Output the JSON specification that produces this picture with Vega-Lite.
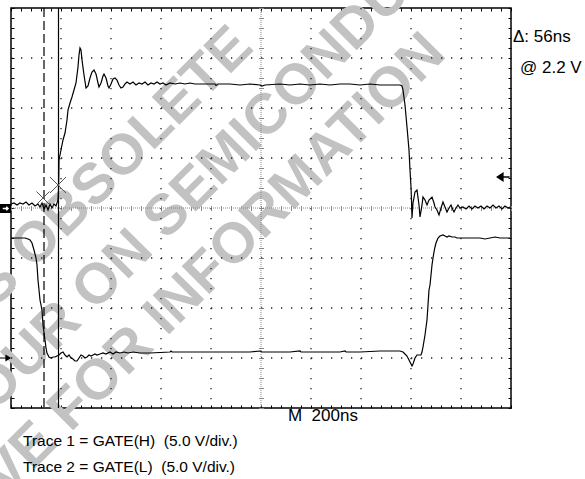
{
  "$schema": "https://vega.github.io/schema/vega-lite/v6.json",
  "width": 500,
  "height": 400,
  "autosize": {"type": "none"},
  "padding": {"left": 11, "top": 8, "right": 74, "bottom": 71},
  "background": "white",
  "config": {
    "view": {"stroke": "black", "strokeWidth": 1.5},
    "axis": {"labels": false, "title": null, "domain": false, "grid": false, "tickColor": "black", "tickWidth": 1}
  },
  "datasets": {
    "wmRight": [
      {"t": 928, "v": 3.42, "label": "THIS PRODUCT IS OBSOLETE"},
      {"t": 528, "v": -0.64, "label": "CONTACT YOUR ON"},
      {"t": 530, "v": -2.56, "label": "REPRESENTATIVE FOR"}
    ],
    "wmLeft": [
      {"t": 572, "v": -0.42, "label": "SEMICONDUCTOR"},
      {"t": 574, "v": -2.34, "label": "INFORMATION"}
    ],
    "gridV": [{"t": 200}, {"t": 400}, {"t": 600}, {"t": 800}, {"t": 1200}, {"t": 1400}, {"t": 1600}, {"t": 1800}],
    "gridH": [{"v": 3}, {"v": 2}, {"v": 1}, {"v": -1}, {"v": -2}, {"v": -3}],
    "trace1": [
      {"t": 0, "v": 0.08}, {"t": 12, "v": 0.10}, {"t": 24, "v": 0.06}, {"t": 36, "v": 0.10}, {"t": 48, "v": 0.08},
      {"t": 60, "v": 0.12}, {"t": 72, "v": 0.06}, {"t": 84, "v": 0.10}, {"t": 96, "v": 0.04}, {"t": 108, "v": 0.08},
      {"t": 116, "v": 0.02}, {"t": 124, "v": 0.10}, {"t": 132, "v": -0.02}, {"t": 140, "v": 0.06}, {"t": 148, "v": -0.04},
      {"t": 156, "v": 0.08}, {"t": 164, "v": 0.0}, {"t": 172, "v": 0.08}, {"t": 180, "v": 0.04}, {"t": 188, "v": 0.16},
      {"t": 190, "v": 0.36}, {"t": 192, "v": 0.96}, {"t": 200, "v": 1.16}, {"t": 208, "v": 1.36}, {"t": 216, "v": 1.5},
      {"t": 224, "v": 1.76}, {"t": 228, "v": 1.96}, {"t": 236, "v": 2.1}, {"t": 244, "v": 2.22}, {"t": 252, "v": 2.36},
      {"t": 260, "v": 2.5}, {"t": 264, "v": 2.66}, {"t": 268, "v": 2.82}, {"t": 272, "v": 3.06}, {"t": 276, "v": 3.2},
      {"t": 280, "v": 3.16}, {"t": 284, "v": 2.96}, {"t": 292, "v": 2.66}, {"t": 300, "v": 2.4}, {"t": 308, "v": 2.44},
      {"t": 316, "v": 2.6}, {"t": 324, "v": 2.72}, {"t": 332, "v": 2.76}, {"t": 340, "v": 2.68}, {"t": 348, "v": 2.5},
      {"t": 352, "v": 2.42}, {"t": 360, "v": 2.5}, {"t": 368, "v": 2.64}, {"t": 372, "v": 2.68}, {"t": 380, "v": 2.6},
      {"t": 388, "v": 2.44}, {"t": 392, "v": 2.4}, {"t": 400, "v": 2.48}, {"t": 408, "v": 2.58}, {"t": 416, "v": 2.6},
      {"t": 424, "v": 2.56}, {"t": 432, "v": 2.46}, {"t": 440, "v": 2.4}, {"t": 448, "v": 2.42}, {"t": 456, "v": 2.48},
      {"t": 464, "v": 2.52}, {"t": 476, "v": 2.48}, {"t": 488, "v": 2.52}, {"t": 500, "v": 2.46}, {"t": 512, "v": 2.5},
      {"t": 524, "v": 2.48}, {"t": 536, "v": 2.52}, {"t": 548, "v": 2.46}, {"t": 560, "v": 2.5}, {"t": 572, "v": 2.48},
      {"t": 584, "v": 2.52}, {"t": 596, "v": 2.48}, {"t": 608, "v": 2.5}, {"t": 620, "v": 2.46}, {"t": 636, "v": 2.5},
      {"t": 656, "v": 2.48}, {"t": 676, "v": 2.5}, {"t": 696, "v": 2.48}, {"t": 716, "v": 2.5}, {"t": 736, "v": 2.48},
      {"t": 756, "v": 2.48}, {"t": 816, "v": 2.48}, {"t": 820, "v": 2.45}, {"t": 828, "v": 2.48}, {"t": 876, "v": 2.48},
      {"t": 916, "v": 2.46}, {"t": 956, "v": 2.48}, {"t": 996, "v": 2.46}, {"t": 1004, "v": 2.44}, {"t": 1016, "v": 2.46},
      {"t": 1076, "v": 2.48}, {"t": 1116, "v": 2.46}, {"t": 1156, "v": 2.48}, {"t": 1196, "v": 2.46}, {"t": 1236, "v": 2.48},
      {"t": 1276, "v": 2.46}, {"t": 1316, "v": 2.48}, {"t": 1356, "v": 2.48}, {"t": 1396, "v": 2.46}, {"t": 1436, "v": 2.48},
      {"t": 1476, "v": 2.46}, {"t": 1516, "v": 2.46}, {"t": 1556, "v": 2.46}, {"t": 1564, "v": 2.44}, {"t": 1568, "v": 2.36},
      {"t": 1576, "v": 2.06}, {"t": 1584, "v": 1.62}, {"t": 1592, "v": 1.16}, {"t": 1596, "v": 0.76}, {"t": 1600, "v": 0.42},
      {"t": 1602, "v": 0.16}, {"t": 1604, "v": -0.2}, {"t": 1608, "v": 0.1}, {"t": 1616, "v": 0.32}, {"t": 1624, "v": 0.36},
      {"t": 1632, "v": 0.06}, {"t": 1636, "v": -0.18}, {"t": 1644, "v": 0.06}, {"t": 1648, "v": 0.22}, {"t": 1656, "v": 0.16},
      {"t": 1664, "v": 0.06}, {"t": 1672, "v": 0.16}, {"t": 1684, "v": 0.22}, {"t": 1692, "v": 0.1}, {"t": 1696, "v": 0.02},
      {"t": 1704, "v": -0.04}, {"t": 1712, "v": -0.14}, {"t": 1720, "v": 0.0}, {"t": 1728, "v": 0.12}, {"t": 1736, "v": 0.02},
      {"t": 1744, "v": -0.08}, {"t": 1752, "v": 0.0}, {"t": 1760, "v": 0.06}, {"t": 1768, "v": -0.04}, {"t": 1772, "v": -0.08},
      {"t": 1780, "v": 0.0}, {"t": 1788, "v": 0.06}, {"t": 1796, "v": 0.0}, {"t": 1808, "v": 0.02}, {"t": 1820, "v": -0.02},
      {"t": 1832, "v": 0.04}, {"t": 1844, "v": -0.02}, {"t": 1856, "v": 0.04}, {"t": 1868, "v": 0.0}, {"t": 1880, "v": 0.04},
      {"t": 1892, "v": -0.02}, {"t": 1904, "v": 0.04}, {"t": 1916, "v": 0.0}, {"t": 1928, "v": 0.06}, {"t": 1940, "v": 0.0},
      {"t": 1952, "v": 0.04}, {"t": 1964, "v": -0.02}, {"t": 1976, "v": 0.04}, {"t": 1988, "v": 0.0}, {"t": 1996, "v": 0.02}
    ],
    "trace2": [
      {"t": 0, "v": -0.6}, {"t": 36, "v": -0.6}, {"t": 56, "v": -0.6}, {"t": 68, "v": -0.62}, {"t": 76, "v": -0.64},
      {"t": 84, "v": -0.7}, {"t": 92, "v": -0.84}, {"t": 100, "v": -1.0}, {"t": 104, "v": -1.14}, {"t": 108, "v": -1.44},
      {"t": 112, "v": -1.64}, {"t": 116, "v": -1.84}, {"t": 124, "v": -2.04}, {"t": 128, "v": -2.34}, {"t": 136, "v": -2.64},
      {"t": 140, "v": -2.8}, {"t": 144, "v": -2.9}, {"t": 152, "v": -2.98}, {"t": 160, "v": -3.0}, {"t": 168, "v": -2.98},
      {"t": 176, "v": -2.98}, {"t": 184, "v": -2.96}, {"t": 192, "v": -2.94}, {"t": 200, "v": -2.9}, {"t": 208, "v": -2.88},
      {"t": 216, "v": -2.94}, {"t": 224, "v": -2.98}, {"t": 232, "v": -2.94}, {"t": 240, "v": -3.0}, {"t": 248, "v": -3.02},
      {"t": 256, "v": -3.06}, {"t": 264, "v": -3.06}, {"t": 272, "v": -3.0}, {"t": 280, "v": -2.94}, {"t": 288, "v": -2.96},
      {"t": 296, "v": -3.0}, {"t": 304, "v": -2.98}, {"t": 312, "v": -2.94}, {"t": 320, "v": -2.96}, {"t": 328, "v": -2.94},
      {"t": 336, "v": -2.92}, {"t": 344, "v": -2.94}, {"t": 356, "v": -2.92}, {"t": 368, "v": -2.9}, {"t": 380, "v": -2.92},
      {"t": 396, "v": -2.88}, {"t": 408, "v": -2.92}, {"t": 420, "v": -2.88}, {"t": 436, "v": -2.9}, {"t": 452, "v": -2.88},
      {"t": 468, "v": -2.9}, {"t": 488, "v": -2.88}, {"t": 516, "v": -2.9}, {"t": 556, "v": -2.9}, {"t": 636, "v": -2.88},
      {"t": 640, "v": -2.86}, {"t": 644, "v": -2.88}, {"t": 756, "v": -2.88}, {"t": 836, "v": -2.88}, {"t": 956, "v": -2.88},
      {"t": 996, "v": -2.86}, {"t": 1004, "v": -2.88}, {"t": 1116, "v": -2.88}, {"t": 1156, "v": -2.86}, {"t": 1160, "v": -2.88},
      {"t": 1236, "v": -2.88}, {"t": 1316, "v": -2.88}, {"t": 1336, "v": -2.86}, {"t": 1340, "v": -2.88}, {"t": 1396, "v": -2.88},
      {"t": 1476, "v": -2.86}, {"t": 1516, "v": -2.86}, {"t": 1556, "v": -2.86}, {"t": 1568, "v": -2.88}, {"t": 1576, "v": -2.92},
      {"t": 1584, "v": -2.96}, {"t": 1592, "v": -3.04}, {"t": 1600, "v": -3.12}, {"t": 1604, "v": -3.16}, {"t": 1608, "v": -3.12},
      {"t": 1616, "v": -3.0}, {"t": 1624, "v": -2.94}, {"t": 1632, "v": -2.94}, {"t": 1640, "v": -2.94}, {"t": 1644, "v": -2.88},
      {"t": 1648, "v": -2.78}, {"t": 1656, "v": -2.54}, {"t": 1664, "v": -2.24}, {"t": 1668, "v": -1.94}, {"t": 1672, "v": -1.64},
      {"t": 1676, "v": -1.54}, {"t": 1680, "v": -1.34}, {"t": 1684, "v": -1.14}, {"t": 1688, "v": -1.0}, {"t": 1692, "v": -0.88},
      {"t": 1696, "v": -0.78}, {"t": 1700, "v": -0.7}, {"t": 1708, "v": -0.6}, {"t": 1716, "v": -0.56}, {"t": 1728, "v": -0.54},
      {"t": 1736, "v": -0.56}, {"t": 1744, "v": -0.58}, {"t": 1752, "v": -0.56}, {"t": 1764, "v": -0.58}, {"t": 1776, "v": -0.58},
      {"t": 1784, "v": -0.6}, {"t": 1796, "v": -0.6}, {"t": 1836, "v": -0.6}, {"t": 1876, "v": -0.6}, {"t": 1896, "v": -0.62},
      {"t": 1916, "v": -0.6}, {"t": 1936, "v": -0.58}, {"t": 1956, "v": -0.6}, {"t": 1996, "v": -0.6}
    ],
    "crosses": [{"t": 128, "v": 0.2, "s": 170}, {"t": 188, "v": 0.46, "s": 260}],
    "boxMarker": [{"t": -22, "v": -0.01}],
    "arrowRight": [{"t": -24, "v": -3}],
    "arrowLeft": [{"t": 1970, "v": 0.62}],
    "labels": [
      {"t": 2008, "v": 3.43, "label": "Δ: 56ns"},
      {"t": 2036, "v": 2.8, "label": "@ 2.2 V"}
    ],
    "mlabel": [{"t": 1108, "v": -4.15, "label": "M\u00a0\u00a0200ns"}],
    "traceLabels": [
      {"t": 48, "v": -4.65, "label": "Trace 1 = GATE(H)\u00a0 (5.0 V/div.)"},
      {"t": 48, "v": -5.18, "label": "Trace 2 = GATE(L)\u00a0 (5.0 V/div.)"}
    ]
  },
  "layer": [
    {
      "data": {"name": "wmRight"},
      "mark": {"type": "text", "align": "right", "baseline": "middle", "angle": -45, "font": "Liberation Sans", "fontWeight": "bold", "fontSize": 57, "color": "#c2c2c2"},
      "encoding": {
        "x": {"field": "t", "type": "quantitative", "scale": {"domain": [0, 2000], "nice": false, "zero": false}, "axis": null},
        "y": {"field": "v", "type": "quantitative", "scale": {"domain": [-4, 4], "nice": false, "zero": false}, "axis": null},
        "text": {"field": "label"}
      }
    },
    {
      "data": {"name": "wmLeft"},
      "mark": {"type": "text", "align": "left", "baseline": "middle", "angle": -45, "font": "Liberation Sans", "fontWeight": "bold", "fontSize": 57, "color": "#c2c2c2"},
      "encoding": {
        "x": {"field": "t", "type": "quantitative", "scale": {"domain": [0, 2000], "nice": false, "zero": false}, "axis": null},
        "y": {"field": "v", "type": "quantitative", "scale": {"domain": [-4, 4], "nice": false, "zero": false}, "axis": null},
        "text": {"field": "label"}
      }
    },
    {
      "data": {"name": "gridV"},
      "mark": {"type": "rule", "color": "#222", "strokeWidth": 1.3, "strokeDash": [1.3, 8.7]},
      "encoding": {
        "x": {"field": "t", "type": "quantitative", "scale": {"domain": [0, 2000], "nice": false, "zero": false}, "axis": null},
        "y": {"datum": 4, "type": "quantitative", "scale": {"domain": [-4, 4], "nice": false, "zero": false}, "axis": null},
        "y2": {"datum": -4}
      }
    },
    {
      "data": {"name": "gridH"},
      "mark": {"type": "rule", "color": "#222", "strokeWidth": 1.3, "strokeDash": [1.3, 8.7]},
      "encoding": {
        "x": {"datum": 0, "type": "quantitative", "scale": {"domain": [0, 2000], "nice": false, "zero": false}, "axis": null},
        "x2": {"datum": 2000},
        "y": {"field": "v", "type": "quantitative", "scale": {"domain": [-4, 4], "nice": false, "zero": false}, "axis": null}
      }
    },
    {
      "data": {"values": [{"t": 1000}]},
      "mark": {"type": "rule", "color": "#888", "strokeWidth": 1, "strokeDash": [1, 1]},
      "encoding": {
        "x": {"field": "t", "type": "quantitative", "scale": {"domain": [0, 2000], "nice": false, "zero": false},
          "axis": {"orient": "bottom", "offset": -202.5, "tickSize": 5, "tickColor": "#888",
            "values": [0,40,80,120,160,200,240,280,320,360,400,440,480,520,560,600,640,680,720,760,800,840,880,920,960,1000,1040,1080,1120,1160,1200,1240,1280,1320,1360,1400,1440,1480,1520,1560,1600,1640,1680,1720,1760,1800,1840,1880,1920,1960,2000]}},
        "y": {"datum": 4, "type": "quantitative", "scale": {"domain": [-4, 4], "nice": false, "zero": false}, "axis": null},
        "y2": {"datum": -4}
      }
    },
    {
      "data": {"values": [{"v": 0}]},
      "mark": {"type": "rule", "color": "#888", "strokeWidth": 1, "strokeDash": [1, 1]},
      "encoding": {
        "x": {"datum": 0, "type": "quantitative", "scale": {"domain": [0, 2000], "nice": false, "zero": false}, "axis": null},
        "x2": {"datum": 2000},
        "y": {"field": "v", "type": "quantitative", "scale": {"domain": [-4, 4], "nice": false, "zero": false},
          "axis": {"orient": "left", "offset": -252.5, "tickSize": 5, "tickColor": "#888",
            "values": [-4,-3.8,-3.6,-3.4,-3.2,-3,-2.8,-2.6,-2.4,-2.2,-2,-1.8,-1.6,-1.4,-1.2,-1,-0.8,-0.6,-0.4,-0.2,0,0.2,0.4,0.6,0.8,1,1.2,1.4,1.6,1.8,2,2.2,2.4,2.6,2.8,3,3.2,3.4,3.6,3.8,4]}}
      }
    },
    {
      "data": {"values": [{"t": 132}]},
      "mark": {"type": "rule", "color": "black", "strokeWidth": 1.2, "strokeDash": [9, 4]},
      "encoding": {
        "x": {"field": "t", "type": "quantitative", "scale": {"domain": [0, 2000], "nice": false, "zero": false}, "axis": null},
        "y": {"datum": 4, "type": "quantitative", "scale": {"domain": [-4, 4], "nice": false, "zero": false}, "axis": null},
        "y2": {"datum": -4}
      }
    },
    {
      "data": {"values": [{"t": 190}]},
      "mark": {"type": "rule", "color": "black", "strokeWidth": 1.2},
      "encoding": {
        "x": {"field": "t", "type": "quantitative", "scale": {"domain": [0, 2000], "nice": false, "zero": false}, "axis": null},
        "y": {"datum": 4, "type": "quantitative", "scale": {"domain": [-4, 4], "nice": false, "zero": false}, "axis": null},
        "y2": {"datum": -4}
      }
    },
    {
      "data": {"name": "trace1"},
      "mark": {"type": "line", "color": "black", "strokeWidth": 1.2},
      "encoding": {
        "x": {"field": "t", "type": "quantitative", "scale": {"domain": [0, 2000], "nice": false, "zero": false},
          "axis": {"orient": "bottom", "tickSize": -3,
            "values": [0,40,80,120,160,200,240,280,320,360,400,440,480,520,560,600,640,680,720,760,800,840,880,920,960,1000,1040,1080,1120,1160,1200,1240,1280,1320,1360,1400,1440,1480,1520,1560,1600,1640,1680,1720,1760,1800,1840,1880,1920,1960,2000]}},
        "y": {"field": "v", "type": "quantitative", "scale": {"domain": [-4, 4], "nice": false, "zero": false},
          "axis": {"orient": "left", "tickSize": -3,
            "values": [-4,-3.8,-3.6,-3.4,-3.2,-3,-2.8,-2.6,-2.4,-2.2,-2,-1.8,-1.6,-1.4,-1.2,-1,-0.8,-0.6,-0.4,-0.2,0,0.2,0.4,0.6,0.8,1,1.2,1.4,1.6,1.8,2,2.2,2.4,2.6,2.8,3,3.2,3.4,3.6,3.8,4]}}
      }
    },
    {
      "data": {"name": "trace2"},
      "mark": {"type": "line", "color": "black", "strokeWidth": 1.2},
      "encoding": {
        "x": {"field": "t", "type": "quantitative", "scale": {"domain": [0, 2000], "nice": false, "zero": false},
          "axis": {"orient": "top", "tickSize": -3,
            "values": [0,40,80,120,160,200,240,280,320,360,400,440,480,520,560,600,640,680,720,760,800,840,880,920,960,1000,1040,1080,1120,1160,1200,1240,1280,1320,1360,1400,1440,1480,1520,1560,1600,1640,1680,1720,1760,1800,1840,1880,1920,1960,2000]}},
        "y": {"field": "v", "type": "quantitative", "scale": {"domain": [-4, 4], "nice": false, "zero": false},
          "axis": {"orient": "right", "tickSize": -3,
            "values": [-4,-3.8,-3.6,-3.4,-3.2,-3,-2.8,-2.6,-2.4,-2.2,-2,-1.8,-1.6,-1.4,-1.2,-1,-0.8,-0.6,-0.4,-0.2,0,0.2,0.4,0.6,0.8,1,1.2,1.4,1.6,1.8,2,2.2,2.4,2.6,2.8,3,3.2,3.4,3.6,3.8,4]}}
      }
    },
    {
      "data": {"name": "crosses"},
      "mark": {"type": "point", "shape": "M-1,-1L1,1M-1,1L1,-1", "filled": false, "color": "#555", "strokeWidth": 1, "opacity": 1},
      "encoding": {
        "x": {"field": "t", "type": "quantitative", "scale": {"domain": [0, 2000], "nice": false, "zero": false}, "axis": null},
        "y": {"field": "v", "type": "quantitative", "scale": {"domain": [-4, 4], "nice": false, "zero": false}, "axis": null},
        "size": {"field": "s", "type": "quantitative", "scale": null}
      }
    },
    {
      "data": {"name": "boxMarker"},
      "mark": {"type": "point", "shape": "M-1.1,-0.9L1.1,-0.9L1.1,0.9L-1.1,0.9Z", "filled": true, "color": "black", "size": 100, "opacity": 1},
      "encoding": {
        "x": {"field": "t", "type": "quantitative", "scale": {"domain": [0, 2000], "nice": false, "zero": false}, "axis": null},
        "y": {"field": "v", "type": "quantitative", "scale": {"domain": [-4, 4], "nice": false, "zero": false}, "axis": null}
      }
    },
    {
      "data": {"name": "boxMarker"},
      "mark": {"type": "point", "shape": "M-0.8,0L0.7,0M0.2,-0.5L0.7,0L0.2,0.5", "filled": false, "color": "white", "strokeWidth": 1.6, "size": 49, "opacity": 1},
      "encoding": {
        "x": {"field": "t", "type": "quantitative", "scale": {"domain": [0, 2000], "nice": false, "zero": false}, "axis": null},
        "y": {"field": "v", "type": "quantitative", "scale": {"domain": [-4, 4], "nice": false, "zero": false}, "axis": null}
      }
    },
    {
      "data": {"name": "arrowRight"},
      "mark": {"type": "point", "shape": "M-1,0L0.2,0M0.2,-0.5L1,0L0.2,0.5Z", "filled": true, "color": "black", "stroke": "black", "strokeWidth": 1.2, "size": 100, "opacity": 1},
      "encoding": {
        "x": {"field": "t", "type": "quantitative", "scale": {"domain": [0, 2000], "nice": false, "zero": false}, "axis": null},
        "y": {"field": "v", "type": "quantitative", "scale": {"domain": [-4, 4], "nice": false, "zero": false}, "axis": null}
      }
    },
    {
      "data": {"name": "arrowLeft"},
      "mark": {"type": "point", "shape": "M1,0L-0.1,0M-0.1,-0.6L-1,0L-0.1,0.6Z", "filled": true, "color": "black", "stroke": "black", "strokeWidth": 1.5, "size": 150, "opacity": 1},
      "encoding": {
        "x": {"field": "t", "type": "quantitative", "scale": {"domain": [0, 2000], "nice": false, "zero": false}, "axis": null},
        "y": {"field": "v", "type": "quantitative", "scale": {"domain": [-4, 4], "nice": false, "zero": false}, "axis": null}
      }
    },
    {
      "data": {"name": "labels"},
      "mark": {"type": "text", "align": "left", "baseline": "middle", "font": "Liberation Sans", "fontSize": 17, "color": "black"},
      "encoding": {
        "x": {"field": "t", "type": "quantitative", "scale": {"domain": [0, 2000], "nice": false, "zero": false}, "axis": null},
        "y": {"field": "v", "type": "quantitative", "scale": {"domain": [-4, 4], "nice": false, "zero": false}, "axis": null},
        "text": {"field": "label"}
      }
    },
    {
      "data": {"name": "mlabel"},
      "mark": {"type": "text", "align": "left", "baseline": "middle", "font": "Liberation Sans", "fontSize": 17, "color": "black"},
      "encoding": {
        "x": {"field": "t", "type": "quantitative", "scale": {"domain": [0, 2000], "nice": false, "zero": false}, "axis": null},
        "y": {"field": "v", "type": "quantitative", "scale": {"domain": [-4, 4], "nice": false, "zero": false}, "axis": null},
        "text": {"field": "label"}
      }
    },
    {
      "data": {"name": "traceLabels"},
      "mark": {"type": "text", "align": "left", "baseline": "middle", "font": "Liberation Sans", "fontSize": 15.5, "color": "black"},
      "encoding": {
        "x": {"field": "t", "type": "quantitative", "scale": {"domain": [0, 2000], "nice": false, "zero": false}, "axis": null},
        "y": {"field": "v", "type": "quantitative", "scale": {"domain": [-4, 4], "nice": false, "zero": false}, "axis": null},
        "text": {"field": "label"}
      }
    }
  ],
  "resolve": {"axis": {"x": "independent", "y": "independent"}}
}
